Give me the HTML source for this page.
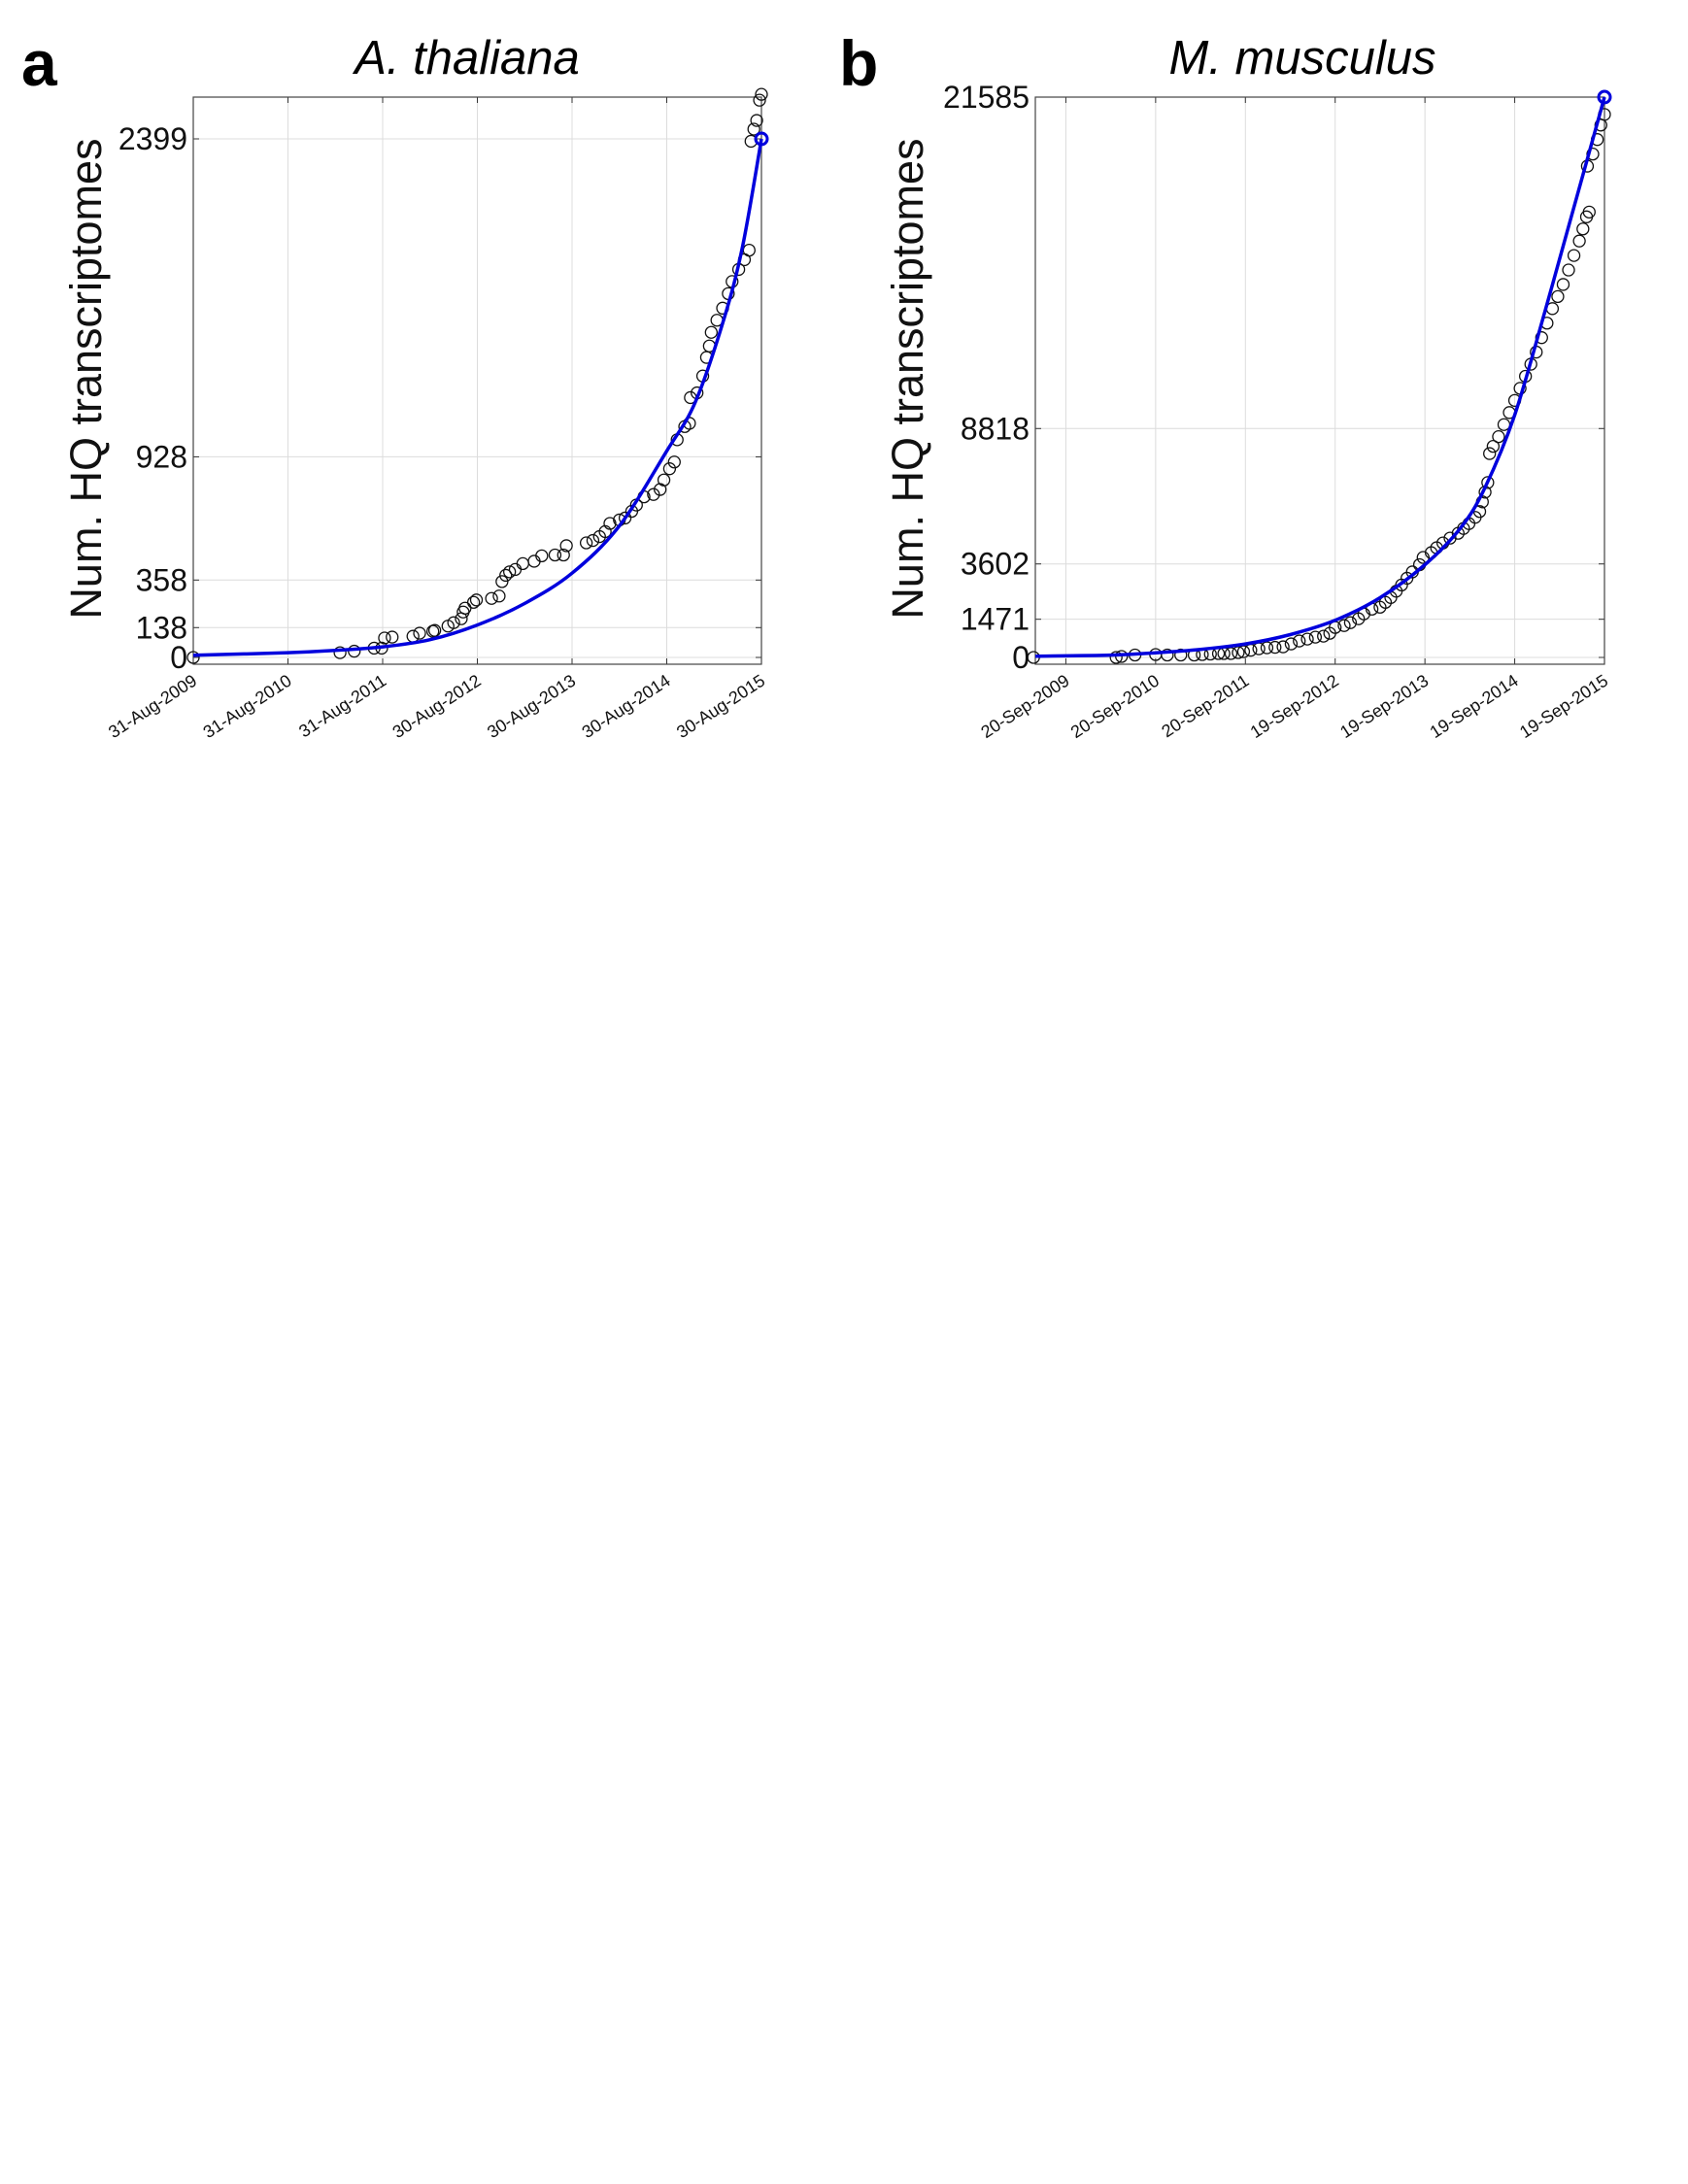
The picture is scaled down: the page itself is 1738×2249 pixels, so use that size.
<!DOCTYPE html>
<html><head><meta charset="utf-8"><style>
html,body{margin:0;padding:0;background:#fff;}
svg{display:block;font-family:"Liberation Sans",Arial,sans-serif;}
</style></head><body>
<svg id="fig" width="1738" height="2249" viewBox="0 0 1738 2249" xmlns="http://www.w3.org/2000/svg">
<rect x="0" y="0" width="1738" height="2249" fill="#fff"/>
<g id="pa"></g>
<g id="pb"></g>
</svg>
<script>
// ---------- Panel A data (t = years since 31-Aug-2009) ----------
const aTickLabels = ["31-Aug-2009","31-Aug-2010","31-Aug-2011","30-Aug-2012","30-Aug-2013","30-Aug-2014","30-Aug-2015"];
const aTickYears = [0,1,2,3,4,5,6];
const aYTicks = [0,138,358,928,2399];
const aPtT = [0,1.55,1.70,1.91,1.99,2.02,2.10,2.32,2.39,2.53,2.55,2.69,2.75,2.83,2.85,2.87,2.96,2.99,3.15,3.23,3.26,3.30,3.34,3.40,3.48,3.60,3.68,3.82,3.91,3.94,4.15,4.22,4.29,4.35,4.40,4.50,4.56,4.63,4.68,4.76,4.86,4.93,4.97,5.03,5.08,5.11,5.19,5.24,5.25,5.32,5.38,5.42,5.45,5.47,5.53,5.59,5.65,5.69,5.76,5.82,5.87,5.89,5.92,5.95,5.98,6.00];
const aPtV = [0,22,29,43,43,90,94,98,112,121,125,145,161,179,210,228,255,266,273,284,351,380,396,407,434,445,470,474,474,517,530,541,559,582,620,636,645,676,705,743,754,777,821,873,904,1007,1068,1083,1202,1224,1302,1388,1441,1504,1560,1616,1683,1739,1795,1840,1884,2388,2444,2484,2578,2605];
const aFitT = [0,1.0,1.5,2.0,2.5,3.0,3.5,4.0,4.5,5.0,5.3,5.6,5.8,6.0];
const aFitV = [10,22,33,49,82,150,250,390,609,955,1180,1560,1900,2399];

// ---------- Panel B data (t = years since 20-Sep-2009) ----------
const bTickLabels = ["20-Sep-2009","20-Sep-2010","20-Sep-2011","19-Sep-2012","19-Sep-2013","19-Sep-2014","19-Sep-2015"];
const bTickYears = [0,1,2,3,4,5,6];
const bYTicks = [0,1471,3602,8818,21585];
const bPtT = [-0.36,0.56,0.62,0.77,1.0,1.13,1.28,1.43,1.52,1.61,1.70,1.76,1.84,1.92,1.98,2.06,2.15,2.24,2.33,2.42,2.51,2.60,2.69,2.78,2.87,2.94,3.00,3.10,3.17,3.26,3.32,3.41,3.50,3.56,3.62,3.68,3.74,3.80,3.86,3.94,3.98,4.07,4.13,4.20,4.28,4.37,4.43,4.49,4.56,4.61,4.64,4.67,4.70,4.72,4.76,4.82,4.88,4.94,5.00,5.06,5.12,5.18,5.24,5.30,5.36,5.42,5.48,5.54,5.60,5.66,5.72,5.76,5.80,5.83,5.81,5.87,5.92,5.96,6.0];
const bPtV = [0,0,37,93,112,93,93,93,112,130,149,149,149,186,223,279,335,372,391,409,521,633,707,782,819,930,1154,1228,1340,1489,1675,1861,1935,2122,2308,2550,2792,3052,3294,3573,3852,4038,4224,4410,4597,4783,4969,5155,5397,5620,5992,6365,6737,7853,8132,8505,8970,9435,9900,10366,10831,11296,11762,12320,12878,13436,13902,14367,14925,15484,16042,16507,16972,17158,18926,19391,19950,20508,20917];
const bFitT = [-0.34,0.5,1.0,1.5,2.0,2.5,3.0,3.5,4.0,4.4,4.67,5.0,5.33,5.63,5.81,6.0];
const bFitV = [50,90,180,310,520,880,1430,2300,3573,5000,6550,9342,13250,16972,19205,21585];

const NS = "http://www.w3.org/2000/svg";
function mk(parent, tag, attrs){ const e=document.createElementNS(NS,tag); for(const k in attrs) e.setAttribute(k,attrs[k]); parent.appendChild(e); return e; }

function smoothPath(pts){
  let d = 'M'+pts[0][0].toFixed(1)+' '+pts[0][1].toFixed(1);
  for(let i=0;i<pts.length-1;i++){
    const p0=pts[Math.max(i-1,0)], p1=pts[i], p2=pts[i+1], p3=pts[Math.min(i+2,pts.length-1)];
    const c1=[p1[0]+(p2[0]-p0[0])/6, p1[1]+(p2[1]-p0[1])/6];
    const c2=[p2[0]-(p3[0]-p1[0])/6, p2[1]-(p3[1]-p1[1])/6];
    d += ` C${c1[0].toFixed(1)} ${c1[1].toFixed(1)} ${c2[0].toFixed(1)} ${c2[1].toFixed(1)} ${p2[0].toFixed(1)} ${p2[1].toFixed(1)}`;
  }
  return d;
}

function drawPanel(g, cfg){
  const {L,R,T,B,y0px,yMax,yMaxPx,tMin,tMax} = cfg;
  const sx = t => L + (t - tMin)/(tMax - tMin)*(R-L);
  const sy = v => y0px - v/yMax*(y0px - yMaxPx);
  cfg.tickYears.forEach((t,i)=>{
    const l = mk(g,'line',{x1:sx(t),x2:sx(t),y1:T,y2:B,stroke:'#dcdcdc','stroke-width':1});
    
    
    mk(g,'line',{x1:sx(t),x2:sx(t),y1:B,y2:B-6,stroke:'#333','stroke-width':1});
    mk(g,'line',{x1:sx(t),x2:sx(t),y1:T,y2:T+6,stroke:'#333','stroke-width':1});
    const x=sx(t)+5, y=B+20;
    const tx = mk(g,'text',{x:x,y:y,'font-size':18,'text-anchor':'end',fill:'#111',transform:`rotate(-33 ${x} ${y})`});
    tx.textContent = cfg.tickLabels[i];
    
    
  });
  cfg.yTicks.forEach(v=>{
    const y=sy(v);
    const l = mk(g,'line',{x1:L,x2:R,y1:y,y2:y,stroke:'#dcdcdc','stroke-width':1});
    
    
    mk(g,'line',{x1:L,x2:L+6,y1:y,y2:y,stroke:'#333','stroke-width':1});
    mk(g,'line',{x1:R,x2:R-6,y1:y,y2:y,stroke:'#333','stroke-width':1});
    const tx = mk(g,'text',{x:L-6,y:y+11,'font-size':32,'text-anchor':'end',fill:'#111'});
    tx.textContent = String(v);
    
    
  });
  const box = mk(g,'rect',{x:L,y:T,width:R-L,height:B-T,fill:'none',stroke:'#444','stroke-width':1.2});
  
  
  cfg.ptT.forEach((t,i)=>{
    const c = mk(g,'circle',{cx:sx(t),cy:sy(cfg.ptV[i]),r:6,fill:'none',stroke:'#111','stroke-width':1.3});
    
    
  });
  const pts = cfg.fitT.map((t,i)=>[sx(t), sy(cfg.fitV[i])]);
  const p = mk(g,'path',{d:smoothPath(pts),fill:'none',stroke:'#0000dd','stroke-width':3.5,'stroke-linejoin':'round'});
  
  
  const n=cfg.fitT.length-1;
  const ec = mk(g,'circle',{cx:sx(cfg.fitT[n]),cy:sy(cfg.fitV[n]),r:6,fill:'none',stroke:'#0000dd','stroke-width':3});
  
  
  const title = mk(g,'text',{x:cfg.titleX,y:76,'font-size':49,'font-style':'italic','text-anchor':'middle',fill:'#000'});
  title.textContent = cfg.title;
  
  
  const yl = mk(g,'text',{x:0,y:0,'font-size':45,'text-anchor':'middle',fill:'#111',transform:`translate(${cfg.ylX} 390) rotate(-90)`});
  yl.textContent = 'Num. HQ transcriptomes';
  
  
  const pl = mk(g,'text',{x:cfg.plX,y:88,'font-size':66,'font-weight':'bold',fill:'#000'});
  pl.textContent = cfg.panel;
  
  
}

drawPanel(document.getElementById('pa'),{L:199,R:784,T:100,B:684,y0px:677,yMax:2399,yMaxPx:143,tMin:0,tMax:6,
  tickYears:aTickYears,tickLabels:aTickLabels,yTicks:aYTicks,ptT:aPtT,ptV:aPtV,fitT:aFitT,fitV:aFitV,
  title:'A. thaliana',titleX:481,ylX:104,plX:22,panel:'a'});
drawPanel(document.getElementById('pb'),{L:1066,R:1652,T:100,B:684,y0px:677,yMax:21585,yMaxPx:100,tMin:-0.34,tMax:6,
  tickYears:bTickYears,tickLabels:bTickLabels,yTicks:bYTicks,ptT:bPtT,ptV:bPtV,fitT:bFitT,fitV:bFitV,
  title:'M. musculus',titleX:1341,ylX:950,plX:864,panel:'b'});
</script>
</body></html>
